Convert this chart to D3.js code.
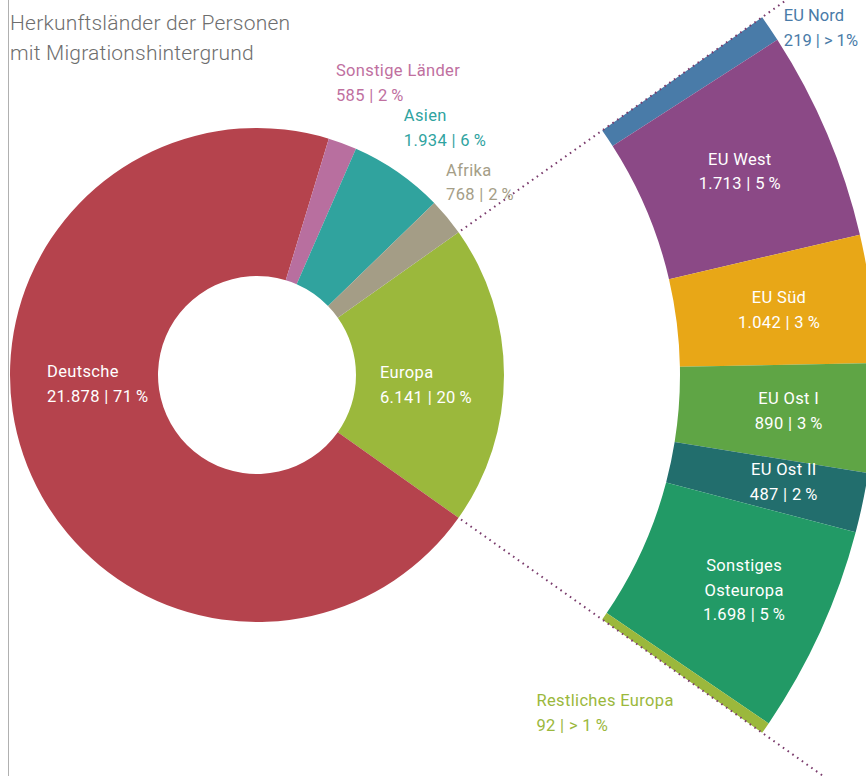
<!DOCTYPE html>
<html><head><meta charset="utf-8">
<script src="https://cdn.jsdelivr.net/npm/d3@7"></script>
<style>
html,body{margin:0;padding:0;background:#fff;}
svg{display:block;font-family:Roboto,"Open Sans",sans-serif;}
</style></head>
<body>
<svg id="chart" width="866" height="776"></svg>
<script>
// ---- data ----
const mainCategories = ["Europa", "Deutsche", "Sonstige Länder", "Asien", "Afrika"];
const mainValues = [6141, 21878, 585, 1934, 768];
const mainPercents = ["20", "71", "2", "6", "2"];
const euroCategories = ["EU Nord", "EU West", "EU Süd", "EU Ost I", "EU Ost II", "Sonstiges Osteuropa", "Restliches Europa"];
const euroValues = [219, 1713, 1042, 890, 487, 1698, 92];
const euroPercents = ["> 1", "5", "3", "3", "2", "5", "> 1"];
const titleLines = ["Herkunftsländer der Personen", "mit Migrationshintergrund"];

// ---- style ----
const mainColors = {"Europa":"#9bb83c","Deutsche":"#b5434d","Sonstige Länder":"#b86f9f","Asien":"#30a39e","Afrika":"#a49d86"};
const mainLabelColors = {"Sonstige Länder":"#c0709f","Asien":"#2fa39f","Afrika":"#a59e87"};
const euroColors = {"EU Nord":"#497ba8","EU West":"#8b4986","EU Süd":"#e8a717","EU Ost I":"#5fa545","EU Ost II":"#226e6d","Sonstiges Osteuropa":"#229a66","Restliches Europa":"#9bb83c"};

const locale = d3.formatLocale({decimal: ",", thousands: ".", grouping: [3], currency: ["", "€"]});
const fmt = locale.format(",d");
const pct = p => p + "\u2009%";

const svg = d3.select("#chart");
const cx = 257, cy = 375;
const rIn = 99, rOut = 247;
const r2In = 423, r2Out = 619;

// left border line
svg.append("line").attr("x1", 8.5).attr("x2", 8.5).attr("y1", 0).attr("y2", 776)
  .attr("stroke", "#b0b0b0").attr("stroke-width", 1);

// title
svg.append("text").attr("x", 10).attr("y", 30).attr("fill", "#6e6e6e")
  .attr("font-size", 21).attr("font-weight", 300).attr("letter-spacing", 0.2)
  .selectAll("tspan").data(titleLines).join("tspan")
  .attr("x", 10).attr("dy", (d, i) => i ? 30 : 0).text(d => d);

const total = d3.sum(mainValues);
const europaSpan = 2 * Math.PI * mainValues[0] / total;
const start = Math.PI / 2 - europaSpan / 2;

const mainData = mainCategories.map((c, i) => ({name: c, value: mainValues[i], pct: mainPercents[i]}));
const pie = d3.pie().sort(null).value(d => d.value).startAngle(start).endAngle(start + 2 * Math.PI);
const mainArcs = pie(mainData);
const arcMain = d3.arc().innerRadius(rIn).outerRadius(rOut);

const g = svg.append("g").attr("transform", `translate(${cx},${cy})`);
g.selectAll("path.main").data(mainArcs).join("path").attr("class", "main")
  .attr("d", arcMain).attr("fill", d => mainColors[d.data.name]);

// right ring (Europa breakdown)
const eur = mainArcs[0];
const euroData = euroCategories.map((c, i) => ({name: c, value: euroValues[i], pct: euroPercents[i]}));
const pie2 = d3.pie().sort(null).value(d => d.value).startAngle(eur.startAngle).endAngle(eur.endAngle);
const euroArcs = pie2(euroData);
const arcEuro = d3.arc().innerRadius(r2In).outerRadius(r2Out);
g.selectAll("path.euro").data(euroArcs).join("path").attr("class", "euro")
  .attr("d", arcEuro).attr("fill", d => euroColors[d.data.name]);

// dotted connector lines
[eur.startAngle, eur.endAngle].forEach(a => {
  g.append("line")
    .attr("x1", (rOut + 3) * Math.sin(a)).attr("y1", -(rOut + 3) * Math.cos(a))
    .attr("x2", 720 * Math.sin(a)).attr("y2", -720 * Math.cos(a))
    .attr("stroke", "#7a3b6c").attr("stroke-width", 2)
    .attr("stroke-dasharray", "1.6,4.2");
});

function polar(r, a) { return [r * Math.sin(a), -r * Math.cos(a)]; }
function addLabel(lines, x, y, color, anchor, spacing) {
  const t = g.append("text").attr("x", x).attr("y", y).attr("fill", color)
    .attr("font-size", 16.5).attr("letter-spacing", spacing === undefined ? 0.35 : spacing)
    .attr("text-anchor", anchor || "start");
  lines.forEach((l, i) => t.append("tspan").attr("x", x).attr("dy", i ? 24.5 : 0).text(l));
}
const valLine = d => fmt(d.data.value) + " | " + pct(d.data.pct);

// main labels
mainArcs.forEach(d => {
  const n = d.data.name, mid = (d.startAngle + d.endAngle) / 2;
  if (n === "Europa") {
    const [x, y] = arcMain.centroid(d);
    addLabel([n, valLine(d)], x - 50, y + 3, "#fff");
  } else if (n === "Deutsche") {
    addLabel([n, valLine(d)], -rOut + 37, 2, "#fff");
  } else {
    const off = {"Sonstige Länder": [-17, -39], "Asien": [-11, -26], "Afrika": [-24, -22]}[n];
    const [x, y] = polar(rOut + 30, mid);
    addLabel([n, valLine(d)], x + off[0], y + off[1], mainLabelColors[n]);
  }
});

// euro labels
euroArcs.forEach(d => {
  const n = d.data.name, mid = (d.startAngle + d.endAngle) / 2;
  if (n === "EU Nord") {
    const [x, y] = polar(r2Out, mid);
    addLabel([n, fmt(d.data.value) + " | " + d.data.pct + "%"], x + 14, y - 7, euroColors[n], "start", 0);
  } else if (n === "Restliches Europa") {
    const [x, y] = polar(r2In, mid);
    addLabel([n, valLine(d)], x - 68, y + 90, euroColors[n]);
  } else {
    const [x, y] = arcEuro.centroid(d);
    const dx = {"EU West": 3, "EU Süd": 5, "EU Ost I": 12, "EU Ost II": 17, "Sonstiges Osteuropa": 13}[n];
    const lines = n === "Sonstiges Osteuropa" ? ["Sonstiges", "Osteuropa", valLine(d)] : [n, valLine(d)];
    const y0 = y - (lines.length - 1) * 24.5 / 2 + 5;
    addLabel(lines, x + dx, y0, "#fff", "middle");
  }
});
</script>
</body></html>
